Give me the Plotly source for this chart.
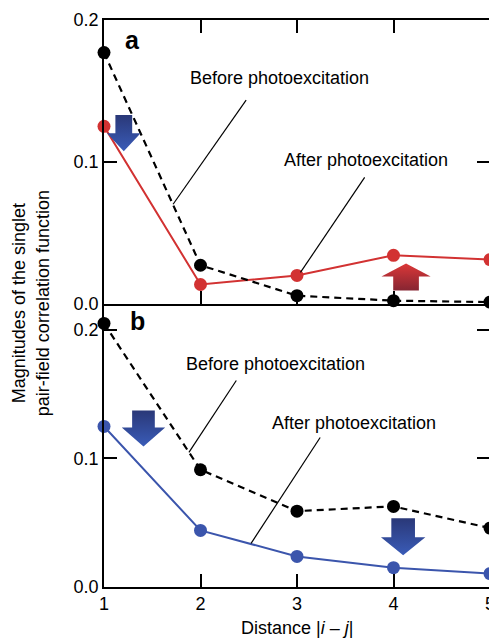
import plotly.graph_objects as go

# ---------------- data ----------------
distance = [1, 2, 3, 4, 5]
a_before = [0.177, 0.027, 0.0055, 0.002, 0.001]
a_after = [0.125, 0.0134, 0.0198, 0.034, 0.031]
b_before = [0.205, 0.0912, 0.059, 0.0627, 0.0458]
b_after = [0.1249, 0.044, 0.0238, 0.015, 0.0104]
y_ticks = [0.0, 0.1, 0.2]
y_ticklabels = ["0.0", "0.1", "0.2"]
x_ticks = [1, 2, 3, 4, 5]
x_ticklabels = ["1", "2", "3", "4", "5"]

FONT = "Liberation Sans, Arial, Helvetica, sans-serif"
RED = "#d23232"
BLUE = "#3b55ac"
BLACK = "#000000"

fig = go.Figure()

def series(x, y, color, dash, xa, ya):
    fig.add_trace(go.Scatter(
        x=x, y=y, mode="lines+markers", xaxis=xa, yaxis=ya,
        line=dict(color=color, width=2.2 if dash else 2, dash=dash),
        marker=dict(color=color, size=13),
        cliponaxis=False, showlegend=False, hoverinfo="skip"))

series(distance, a_after, RED, None, "x", "y")
series(distance, a_before, BLACK, "7px,5px", "x", "y")
series(distance, b_after, BLUE, None, "x2", "y2")
series(distance, b_before, BLACK, "7px,5px", "x2", "y2")

# ---------------- gradient arrows (decoration) ----------------
def arrow(xc, y_tail, y_tip, y_head, shaft_w, head_w, c_low, c_high, xa, ya):
    xs = [xc - shaft_w / 2, xc + shaft_w / 2, xc + shaft_w / 2, xc + head_w / 2,
          xc, xc - head_w / 2, xc - shaft_w / 2, xc - shaft_w / 2]
    ys = [y_tail, y_tail, y_head, y_head, y_tip, y_head, y_head, y_tail]
    fig.add_trace(go.Scatter(
        x=xs, y=ys, mode="lines", fill="toself", xaxis=xa, yaxis=ya,
        line=dict(width=0, color="rgba(0,0,0,0)"),
        fillgradient=dict(type="vertical", colorscale=[[0, c_low], [1, c_high]]),
        showlegend=False, hoverinfo="skip"))

arrow(1.205, 0.1329, 0.1074, 0.1201, 0.174, 0.348, "#3a5cb8", "#2a3878", "x", "y")
arrow(4.13, 0.0092, 0.0283, 0.0191, 0.266, 0.51, "#862532", "#dc3838", "x", "y")
arrow(1.409, 0.1373, 0.1093, 0.1241, 0.235, 0.45, "#3a5cb8", "#2a3878", "x2", "y2")
arrow(4.10, 0.0534, 0.0246, 0.0386, 0.245, 0.46, "#3a5cb8", "#2a3878", "x2", "y2")

# ---------------- axes ----------------
common_axis = dict(showline=True, linecolor=BLACK, linewidth=1.5, ticks="inside",
                   ticklen=13, tickwidth=1.5, tickcolor=BLACK, showgrid=False,
                   zeroline=False, tickfont=dict(family=FONT, size=18, color=BLACK))

# the page has an 8px body margin, so the figure is sized to fit inside the window
fig.update_layout(
    width=489, height=631,
    margin=dict(l=96, r=2, t=12, b=52),
    paper_bgcolor="white", plot_bgcolor="white",
    font=dict(family=FONT, size=18, color=BLACK),
    xaxis=dict(common_axis, domain=[0, 1], range=[1, 5], anchor="y",
               tickvals=x_ticks, showticklabels=False, mirror="allticks"),
    yaxis=dict(common_axis, domain=[0.5, 1], range=[0, 0.2], anchor="x",
               tickvals=y_ticks, ticktext=y_ticklabels, mirror="allticks"),
    xaxis2=dict(common_axis, domain=[0, 1], range=[1, 5], anchor="y2",
                tickvals=x_ticks, ticktext=x_ticklabels, mirror=False,
                ticklabeloverflow="allow"),
    yaxis2=dict(common_axis, domain=[0, 0.5], range=[0, 0.2205], anchor="x2",
                tickvals=y_ticks, ticktext=y_ticklabels, mirror="allticks"),
)

# ---------------- annotations ----------------
ann = []
def text(s, x, y, xref, yref, size=18, bold=False, angle=0):
    ann.append(dict(text=f"<b>{s}</b>" if bold else s, x=x, y=y, xref=xref, yref=yref,
                    showarrow=False, xanchor="center", yanchor="middle", textangle=angle,
                    font=dict(family=FONT, size=size, color=BLACK)))

text("a", 1.30, 0.186, "x", "y", size=25, bold=True)
text("b", 1.35, 0.207, "x2", "y2", size=25, bold=True)
text("Before photoexcitation", 2.816, 0.159, "x", "y")
text("After photoexcitation", 3.716, 0.101, "x", "y")
text("Before photoexcitation", 2.78, 0.1738, "x2", "y2")
text("After photoexcitation", 3.593, 0.1274, "x2", "y2")
text("Distance |<i>i</i> – <i>j</i>|", 0.5, -0.0723, "paper", "paper")
text("Magnitudes of the singlet<br>pair-field correlation function", -0.19, 0.5,
     "paper", "paper", angle=-90)
fig.update_layout(annotations=ann)

# pointer lines
def pointer(x0, y0, x1, y1, xa, ya):
    fig.add_shape(type="line", x0=x0, y0=y0, x1=x1, y1=y1, xref=xa, yref=ya,
                  line=dict(color=BLACK, width=1.2))

pointer(2.473, 0.1435, 1.716, 0.070, "x", "y")
pointer(3.701, 0.089, 3.036, 0.0219, "x", "y")
pointer(2.371, 0.1606, 1.88, 0.1047, "x2", "y2")
pointer(3.240, 0.1163, 2.524, 0.0339, "x2", "y2")

fig.write_html("out.html")
